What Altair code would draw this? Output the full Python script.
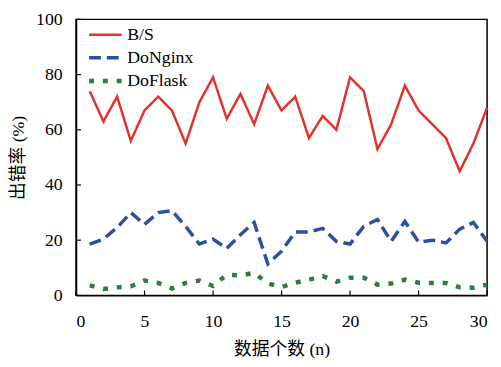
import altair as alt
import pandas as pd

n = list(range(1, 31))
bs = [74, 63, 72, 56, 67, 72, 67, 55, 70, 79, 64, 73, 62, 76, 67,
      72, 57, 65, 60, 79, 74, 53, 62, 76, 67, 62, 57, 45, 55, 68]
donginx = [18.6, 20.4, 24.6, 30, 25.7, 30, 30.7, 25, 18.6, 20.4, 17, 22, 26.4, 11.4, 16,
           23, 23, 24.3, 19.6, 18.6, 25, 27.5, 19.6, 26.8, 19.3, 20, 19, 24, 26.4, 19.6]
doflask = [3.6, 2.3, 2.9, 3.3, 5.4, 4.5, 2.5, 4.5, 5.4, 3.4, 7.5, 7.2, 8.2, 4.3, 3,
           4.6, 5.7, 7, 5, 6.4, 6.4, 3.9, 4.3, 5.7, 4.6, 4.5, 4.5, 2.9, 2.8, 3.9]
series = ["B/S", "DoNginx", "DoFlask"]
colors = ["#e2322c", "#2c50a0", "#2e7d3c"]
y_ticks = [0, 20, 40, 60, 80, 100]
x_ticks = [0, 5, 10, 15, 20, 25, 30]

rows = []
for name, vals in zip(series, [bs, donginx, doflask]):
    for xi, v in zip(n, vals):
        rows.append({"n": xi, "v": v, "s": name})
df = pd.DataFrame(rows)

FONT = "Liberation Serif, Times New Roman, serif"
TFONT = "Liberation Serif, Noto Sans CJK SC, serif"

xs = alt.Scale(domain=[0, 30], nice=False)
ys = alt.Scale(domain=[0, 100], nice=False)

lines = alt.Chart(df).mark_line(strokeCap="butt", strokeJoin="miter").encode(
    x=alt.X("n:Q", scale=xs,
            axis=alt.Axis(values=x_ticks, title="数据个数 (n)", ticks=False, grid=False,
                          labelPadding=18, titlePadding=10)),
    y=alt.Y("v:Q", scale=ys,
            axis=alt.Axis(values=y_ticks, title="出错率 (%)", ticks=False, grid=False,
                          labelPadding=14, titlePadding=8)),
    color=alt.Color("s:N", scale=alt.Scale(domain=series, range=colors),
                    legend=alt.Legend(title=None, orient="none", legendX=11, legendY=6,
                                      symbolType="M-1,0H3", symbolSize=272,
                                      labelFontSize=18, labelFont=FONT, rowPadding=4,
                                      labelOffset=20, padding=0)),
    strokeDash=alt.StrokeDash("s:N", scale=alt.Scale(domain=series,
                              range=[[1, 0], [12, 6], [5, 9]]), legend=None),
    strokeWidth=alt.StrokeWidth("s:N", scale=alt.Scale(domain=series, range=[2.5, 4.5, 5]),
                                legend=None),
    detail="s:N",
)

ytk = alt.Chart(pd.DataFrame({"t": y_ticks})).mark_rule(color="black", strokeWidth=1.2).encode(
    y=alt.Y("t:Q", scale=ys), x=alt.value(0), x2=alt.value(5))
xtk = alt.Chart(pd.DataFrame({"t": x_ticks})).mark_rule(color="black", strokeWidth=1.2).encode(
    x=alt.X("t:Q", scale=xs), y=alt.value(280), y2=alt.value(275))

chart = alt.layer(lines, ytk, xtk).properties(
    width=417, height=280,
    autosize=alt.AutoSizeParams(type="none"),
    padding={"left": 69, "top": 9, "right": 6, "bottom": 62},
).configure_view(stroke="black", strokeWidth=1.5).configure_axis(
    domainColor="black", domainWidth=1.5, labelColor="black", labelFont=FONT,
    labelFontSize=18, titleFont=TFONT, titleFontSize=18, titleFontWeight="normal",
    titleColor="black",
).configure_legend(labelColor="black")

chart.save("out.html", embed_options={"renderer": "svg", "actions": False})
